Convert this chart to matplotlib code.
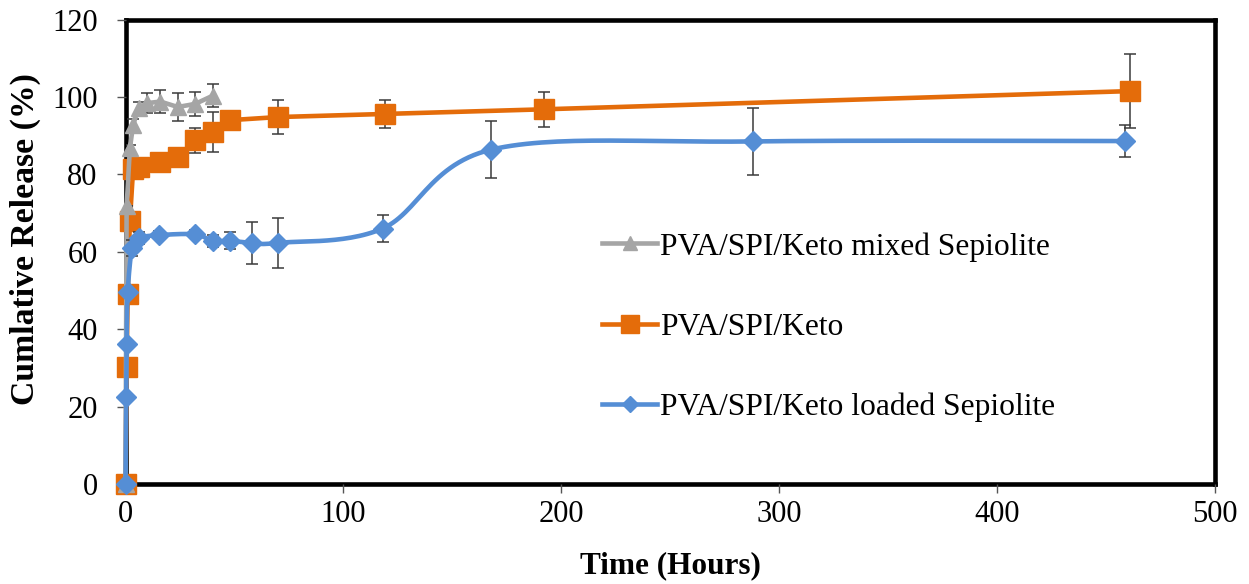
import numpy as np
import matplotlib
matplotlib.use("Agg")
import matplotlib.pyplot as plt
from matplotlib.lines import Line2D

# ---- data ----
t_mixed = [0, 0.5, 2, 3.5, 6, 10, 16, 24, 32, 40]
v_mixed = [0, 71.7, 86.7, 92.8, 97.2, 98.4, 98.8, 97.4, 98.2, 100.3]
e_mixed = [0, 0, 1, 1.5, 1.5, 2.5, 3, 3.5, 3, 3]

t_keto = [0, 0.5, 1, 2, 3.5, 6, 16, 24, 32, 40, 48, 70, 119, 192, 461]
v_keto = [0, 30.2, 49, 67.9, 81.5, 82, 83.2, 84.5, 88.8, 91, 94, 94.8, 95.6, 96.8, 101.5]
e_keto = [0, 0, 0, 0, 1, 1, 1, 1.5, 3.2, 5.2, 1, 4.4, 3.7, 4.5, 9.5]

t_loaded = [0, 0.3, 0.5, 1, 3, 6, 15.5, 32, 40, 48, 58, 70, 118, 168, 288, 459]
v_loaded = [0, 22.6, 36.2, 49.6, 61, 63.5, 64.3, 64.5, 62.8, 62.8, 62.3, 62.3, 66, 86.4, 88.5, 88.6]
e_loaded = [0, 0, 0, 1, 2, 1.5, 1, 1, 1.5, 2.2, 5.5, 6.4, 3.6, 7.3, 8.6, 4.2]

labels = ["PVA/SPI/Keto mixed Sepiolite", "PVA/SPI/Keto", "PVA/SPI/Keto loaded Sepiolite"]
x_ticks = [0, 100, 200, 300, 400, 500]
y_ticks = [0, 20, 40, 60, 80, 100, 120]

c_gray = "#A5A5A5"
c_orange = "#E46C0A"
c_blue = "#558ED5"


def smooth(x, y, n=30):
    """Excel-like smoothed line (uniform Catmull-Rom / Bezier)."""
    x = np.asarray(x, float)
    y = np.asarray(y, float)
    P = np.column_stack([x, y])
    out = [P[0]]
    for i in range(len(P) - 1):
        p0 = P[i - 1] if i > 0 else P[i]
        p1 = P[i]
        p2 = P[i + 1]
        p3 = P[i + 2] if i + 2 < len(P) else P[i + 1]
        c1 = p1 + (p2 - p0) / 6.0
        c2 = p2 - (p3 - p1) / 6.0
        s = np.linspace(0, 1, n)[1:, None]
        b = ((1 - s) ** 3) * p1 + 3 * ((1 - s) ** 2) * s * c1 + 3 * (1 - s) * s ** 2 * c2 + s ** 3 * p2
        out.extend(b)
    out = np.array(out)
    return out[:, 0], out[:, 1]


plt.rcParams['font.family'] = ['Liberation Serif', 'DejaVu Serif']

fig = plt.figure(figsize=(12.49, 5.84), dpi=100)
ax = fig.add_axes([0.1005, 0.1712, 0.8719, 0.7954])

ecol = "#3a3a3a"
eb_kw = dict(fmt='none', ecolor=ecol, elinewidth=1.1, capsize=4.5, capthick=1.1)
# orange
ax.errorbar(t_keto, v_keto, yerr=e_keto, zorder=2, **eb_kw)
ax.plot(t_keto, v_keto, color=c_orange, lw=3.3, marker='s', ms=14.5, mec=c_orange,
        zorder=3, clip_on=False)
# gray
ax.errorbar(t_mixed, v_mixed, yerr=e_mixed, zorder=4, **eb_kw)
ax.plot(t_mixed, v_mixed, color=c_gray, lw=3.3, marker='^', ms=11.5, mec=c_gray,
        zorder=5, clip_on=False)
# blue
ax.errorbar(t_loaded, v_loaded, yerr=e_loaded, zorder=6, **eb_kw)
sx, sy = smooth(t_loaded, v_loaded)
ax.plot(sx, sy, color=c_blue, lw=3.3, zorder=7, clip_on=False)
ax.plot(t_loaded, v_loaded, ls='none', marker='D', ms=10.5, color=c_blue, mec=c_blue,
        zorder=8, clip_on=False)

ax.set_xlim(0, 500)
ax.set_ylim(0, 120)
ax.set_xticks(x_ticks)
ax.set_yticks(y_ticks)
ax.tick_params(axis='both', direction='out', length=6.5, width=1, color='#555555',
               labelsize=22)
ax.tick_params(axis='x', pad=5)
ax.tick_params(axis='y', pad=13.5)
for s in ax.spines.values():
    s.set_linewidth(3.3)
    s.set_color('black')
    s.set_zorder(1)

ax.set_xlabel("Time (Hours)", fontsize=22.5, fontweight='bold', labelpad=16)
ax.set_ylabel("Cumlative Release (%)", fontsize=24.3, fontweight='bold')
ax.yaxis.set_label_coords(-0.078, 0.527)

handles = [
    Line2D([], [], color=c_gray, lw=3.3, marker='^', ms=9.5, mec=c_gray),
    Line2D([], [], color=c_orange, lw=3.3, marker='s', ms=13, mec=c_orange),
    Line2D([], [], color=c_blue, lw=3.3, marker='D', ms=8.5, mec=c_blue),
]
fig.legend(handles, labels, loc='upper left', bbox_to_anchor=(602 / 1249, 1 - 232 / 584),
           frameon=False, fontsize=22.7, handlelength=1.75, handletextpad=0.1,
           labelspacing=1.62, borderpad=0, borderaxespad=0)

fig.savefig("out.png", dpi=100)
